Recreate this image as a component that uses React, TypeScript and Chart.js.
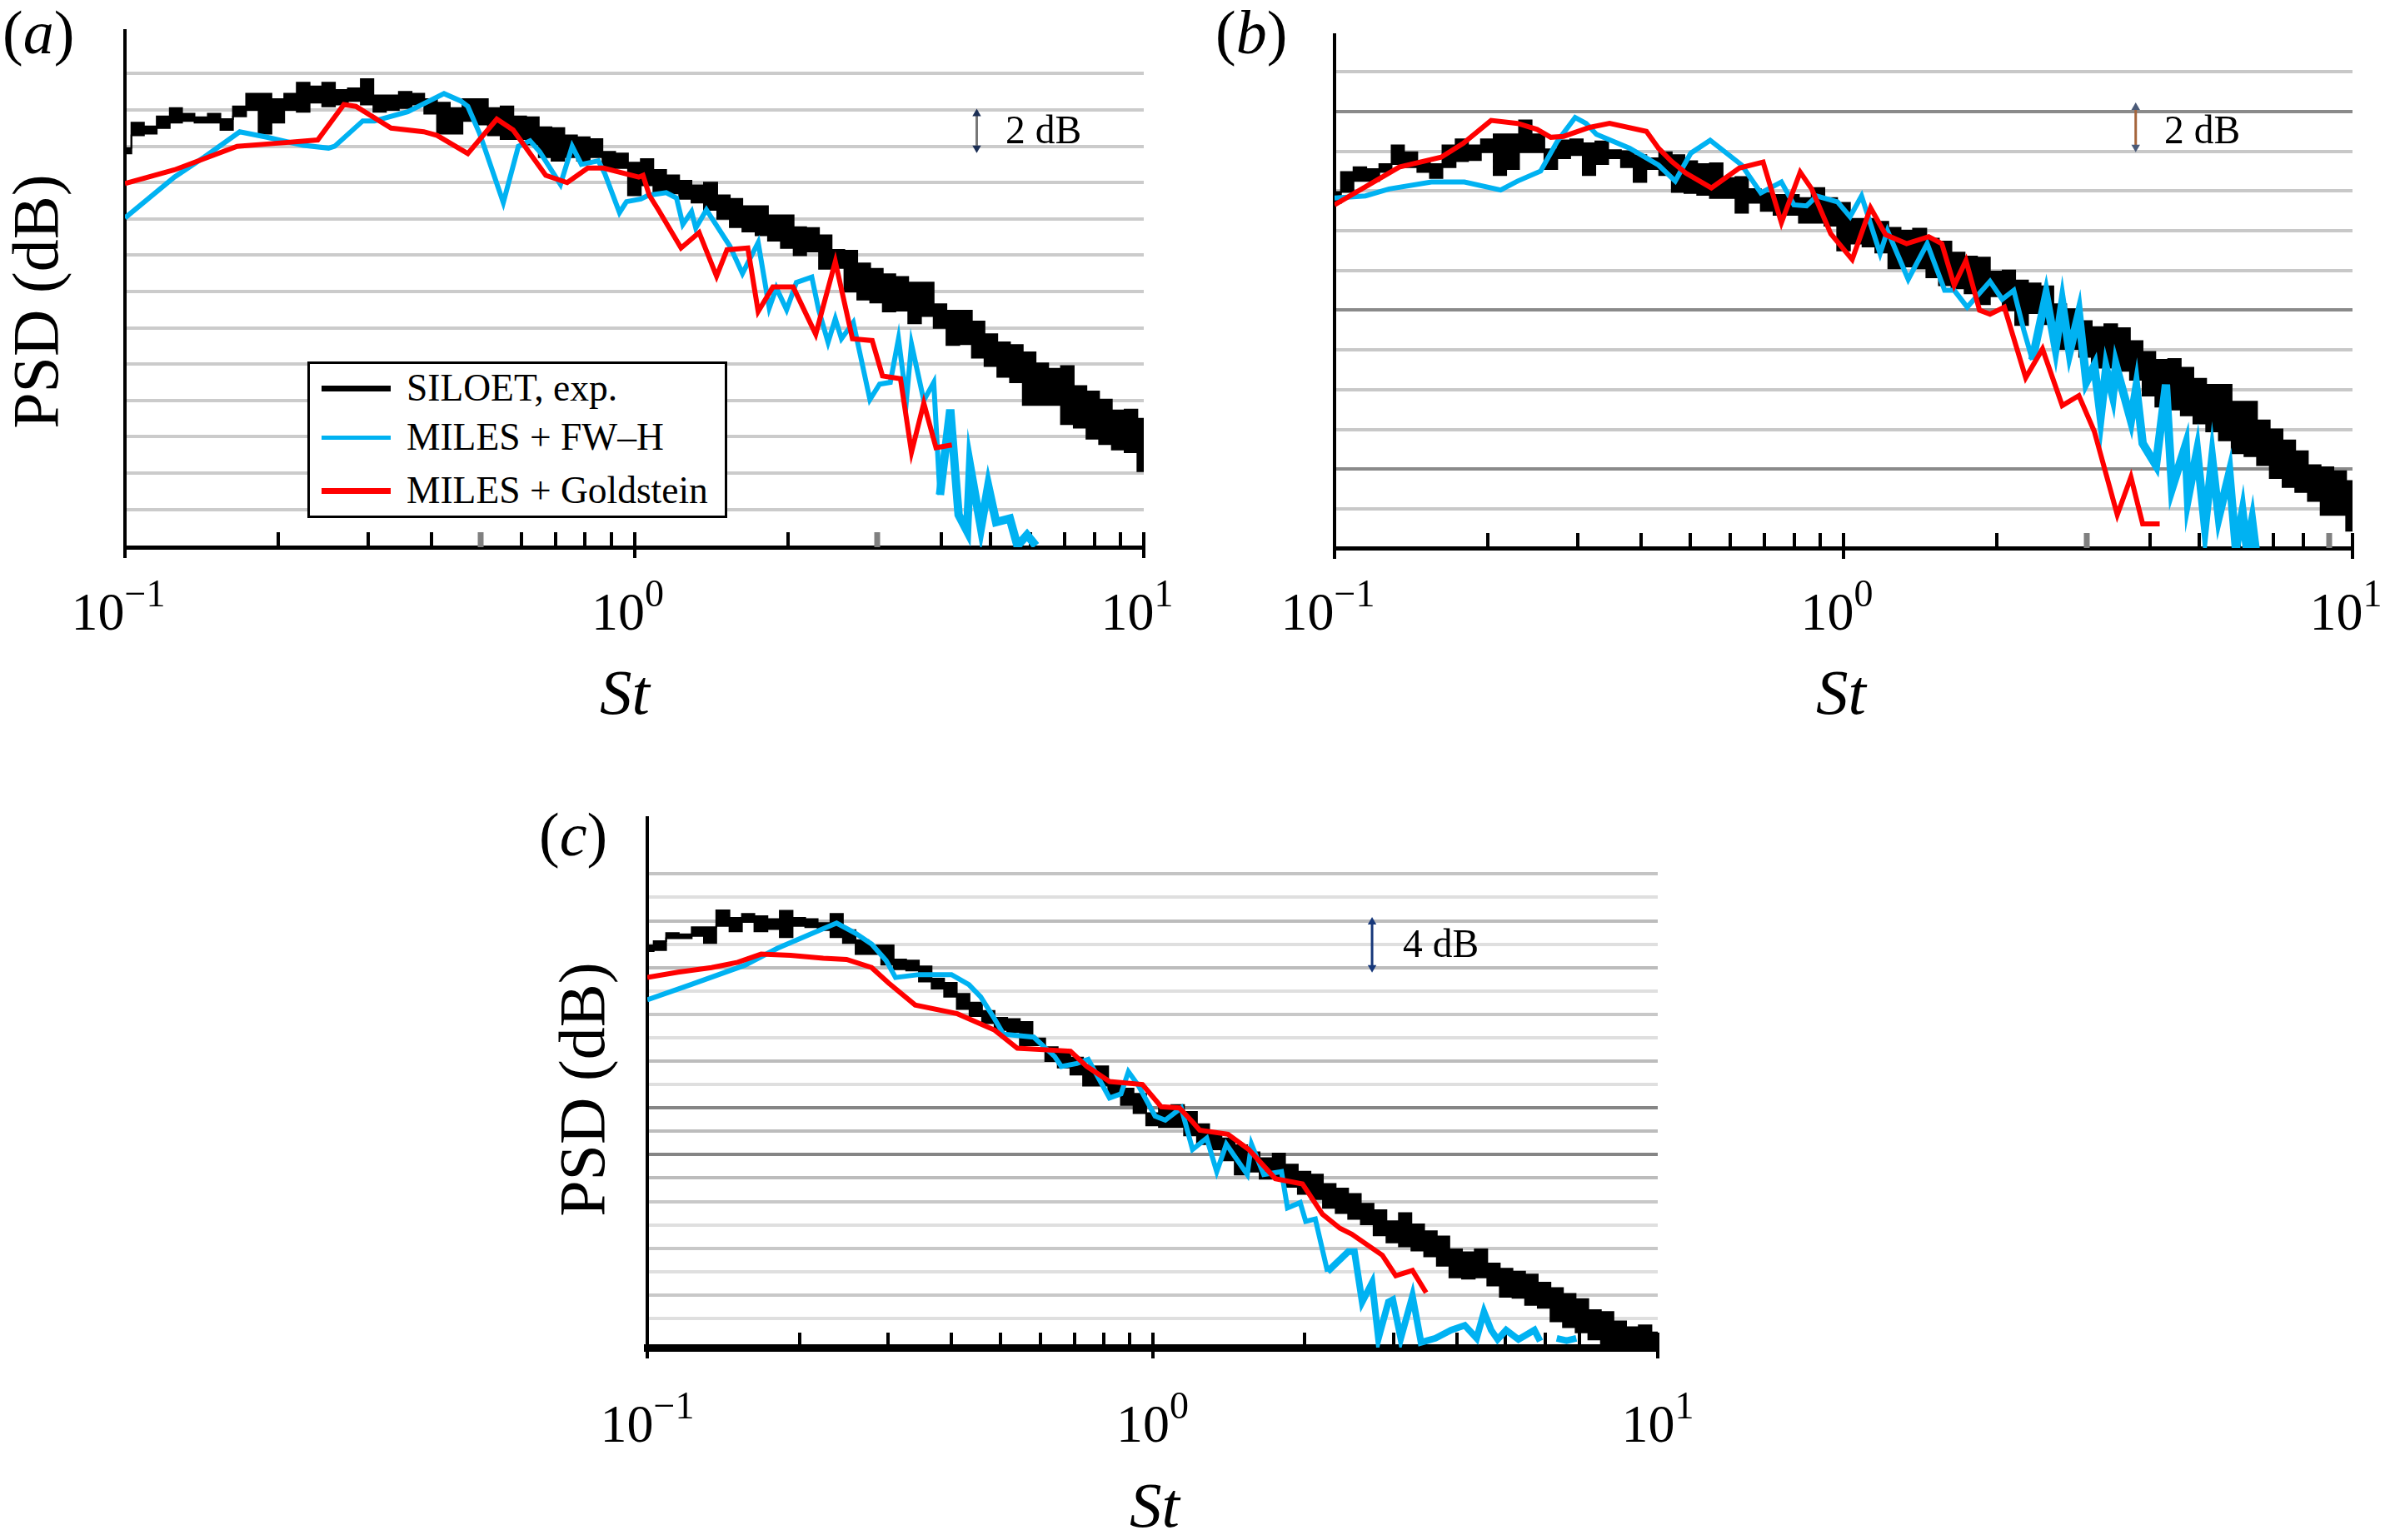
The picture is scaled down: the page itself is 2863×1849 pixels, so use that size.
import React, { useEffect, useRef } from "react";
import Chart from "chart.js/auto";

const SERIF = '"Liberation Serif"';
const BLACK = "#000000";
const BLUE = "#00b2f2";
const RED = "#ff0000";

const legendLabels = ["SILOET, exp.", "MILES + FW\u2013H", "MILES + Goldstein"];

const xTickValues = [
  0.1, 0.2, 0.3, 0.4, 0.5, 0.6, 0.7, 0.8, 0.9, 1, 2, 3, 4, 5, 6, 7, 8, 9, 10,
];
const xDecades = [
  { value: 0.1, exp: "\u22121" },
  { value: 1, exp: "0" },
  { value: 10, exp: "1" },
];

// St samples shared by the experimental band
const blackSt = [
  0.1, 0.106, 0.112, 0.119, 0.126, 0.133, 0.141, 0.15, 0.158, 0.168, 0.178,
  0.188, 0.2, 0.211, 0.224, 0.237, 0.251, 0.266, 0.282, 0.299, 0.316, 0.335,
  0.355, 0.376, 0.398, 0.422, 0.447, 0.473, 0.501, 0.531, 0.562, 0.596, 0.631,
  0.668, 0.708, 0.75, 0.794, 0.841, 0.891, 0.944, 1.0, 1.06, 1.12, 1.19, 1.26,
  1.33, 1.41, 1.5, 1.58, 1.68, 1.78, 1.88, 2.0, 2.11, 2.24, 2.37, 2.51, 2.66,
  2.82, 2.99, 3.16, 3.35, 3.55, 3.76, 3.98, 4.22, 4.47, 4.73, 5.01, 5.31, 5.62,
  5.96, 6.31, 6.68, 7.08, 7.5, 7.94, 8.41, 8.91, 9.44, 10.0,
];

// panel (a)
const aBlackUpper = [
  21.9, 23.3, 23.1, 23.65, 24.1, 23.8, 23.6, 23.8, 23.5, 24.2, 24.9, 24.9, 24.6,
  24.9, 25.5, 25.3, 25.5, 25.1, 25.2, 25.7, 24.8, 24.8, 25.0, 24.9, 24.6, 24.4,
  24.1, 24.6, 24.6, 24.1, 24.2, 23.65, 23.6, 23.05, 23.0, 22.6, 22.5, 22.4,
  21.7, 21.6, 21.1, 21.3, 20.7, 20.4, 20.1, 19.85, 20, 19.3, 19.1, 18.7, 18.7,
  18.2, 18.2, 17.55, 17.5, 17.1, 16.3, 16.25, 15.55, 15.25, 14.95, 14.8, 14.5,
  14.5, 13.3, 12.95, 12.95, 12.35, 11.65, 11.2, 11.05, 10.65, 10.05, 9.75, 9.9,
  8.8, 8.5, 8.05, 7.45, 7.5, 7.0,
];
const aBlackLower = [
  21.6, 22.6, 22.7, 23.0, 23.3, 23.4, 23.3, 23.3, 22.9, 23.65, 24.0, 22.7, 23.3,
  24.0, 23.9, 24.4, 24.2, 24.3, 24.5, 24.3, 23.9, 24.0, 24.1, 24.3, 23.8, 22.7,
  22.7, 23.4, 23.2, 22.6, 22.4, 22.4, 22.1, 21.4, 21.2, 21.4, 21.2, 21.4, 20.7,
  20.8, 19.3, 19.85, 19.5, 19.4, 19.1, 18.9, 18.5, 18.0, 17.55, 17.3, 17.1,
  16.8, 16.4, 16.0, 16.2, 15.25, 15.3, 14.0, 13.55, 13.4, 12.9, 12.95, 12.25,
  12.65, 12.0, 11.05, 11.1, 10.35, 9.9, 9.3, 9.0, 7.75, 7.75, 7.75, 6.7, 6.5,
  5.9, 5.6, 5.3, 5.15, 4.1,
];
const aBlueSt = [
  0.1, 0.125, 0.143, 0.168, 0.19, 0.224, 0.251, 0.258, 0.293, 0.309, 0.359,
  0.423, 0.456, 0.471, 0.496, 0.507, 0.553, 0.592, 0.624, 0.652, 0.716, 0.755,
  0.787, 0.85, 0.875, 0.935, 0.965, 1.03, 1.065, 1.155, 1.21, 1.245, 1.295,
  1.32, 1.385, 1.54, 1.63, 1.75, 1.84, 1.9, 1.99, 2.08, 2.23, 2.3, 2.4, 2.48,
  2.55, 2.69, 2.9, 3.03, 3.18, 3.3, 3.42, 3.5, 3.7, 3.87, 3.98, 4.17, 4.33, 4.5,
  4.56, 4.79, 4.95, 5.13, 5.46, 5.65, 5.9, 6.14,
];
const aBlueDb = [
  18.05, 20.3, 21.4, 22.8, 22.5, 22.05, 21.9, 22, 23.4, 23.4, 23.9, 24.9, 24.5,
  24.2, 22.75, 22, 18.9, 22, 22.3, 21.7, 19.9, 22, 21, 21.2, 20.5, 18.35, 18.95,
  19.1, 19.3, 19.45, 19.15, 17.7, 18.4, 17.5, 18.5, 16.5, 15, 16.7, 13.1, 14.2,
  13, 14.5, 14.8, 13, 11.2, 12.5, 11.4, 12.3, 8.05, 8.9, 9, 11.4, 8, 11.1, 8, 9,
  2.8, 7.5, 1.7, 0.8, 4.4, 1.0, 3.3, 1.3, 1.5, 0, 0.6, 0,
];
const aRedSt = [
  0.1, 0.125, 0.166, 0.195, 0.239, 0.269, 0.284, 0.333, 0.386, 0.41, 0.471,
  0.537, 0.578, 0.67, 0.738, 0.81, 0.87, 1.02, 1.04, 1.07, 1.115, 1.235, 1.34,
  1.45, 1.52, 1.67, 1.75, 1.87, 2.05, 2.27, 2.48, 2.68, 2.93, 3.07, 3.33, 3.5,
  3.7, 3.91, 4.2,
];
const aRedDb = [
  19.95, 20.7, 22, 22.15, 22.35, 24.3, 24.2, 23, 22.8, 22.6, 21.6, 23.5, 22.9,
  20.4, 20, 20.8, 20.8, 20.3, 20.4, 19.3, 18.5, 16.4, 17.25, 14.85, 16.3, 16.4,
  12.9, 14.25, 14.25, 11.65, 15.65, 11.4, 11.3, 9.35, 9.2, 5.15, 7.85, 5.4,
  5.55,
];

// panel (b)
const bBlackUpper = [
  17.95, 18.95, 19.2, 19.1, 19.35, 20.3, 19.95, 19.5, 19.35, 20.3, 20.6, 20.3,
  20.6, 20.85, 20.85, 21.55, 20.85, 20.1, 20.55, 20.6, 20.4, 20.5, 20.05, 20,
  19.8, 19.65, 19.95, 19.8, 19.5, 19.35, 19.4, 18.65, 18.7, 18.1, 17.9, 17.8,
  17.8, 17.65, 18.15, 17.65, 17.4, 16.6, 16.6, 16.45, 16.15, 16, 16.1, 15.6,
  15.45, 14.9, 14.7, 14.65, 13.95, 14, 13.5, 13.35, 13.2, 12.3, 12.05, 11.45,
  11.15, 11.3, 11.1, 10.45, 9.9, 9.5, 9.55, 9.1, 8.55, 8.25, 8.25, 7.4, 7.4,
  6.45, 6, 5.45, 4.9, 4.2, 4.1, 3.9, 3.4,
];
const bBlackLower = [
  17.4, 17.95, 18.5, 18.5, 18.95, 19.35, 19.2, 18.95, 18.65, 19.2, 19.5, 19.55,
  19.95, 18.8, 19.1, 19.95, 19.95, 19.1, 19.65, 19.8, 18.8, 19.35, 19.65, 19.2,
  18.45, 19.1, 18.8, 17.95, 17.9, 17.8, 17.65, 17.65, 16.9, 17.4, 17, 16.8,
  16.8, 16.4, 16.4, 16.25, 15, 15.35, 15.2, 14.9, 14.1, 14.2, 14.1, 13.65,
  13.25, 13.1, 12.85, 12.3, 12.7, 12, 11.25, 11.85, 11.3, 10.05, 10.05, 9.65,
  9.1, 9.1, 8.95, 8.5, 7.7, 7.15, 7, 6.7, 6.3, 5.9, 5.45, 4.8, 4.65, 4.2, 3.55,
  3.1, 2.85, 2.4, 1.7, 1.7, 0.9,
];
const bBlueSt = [
  0.1, 0.115, 0.128, 0.155, 0.18, 0.212, 0.229, 0.254, 0.274, 0.297, 0.312,
  0.327, 0.38, 0.433, 0.467, 0.501, 0.547, 0.631, 0.688, 0.755, 0.799, 0.846,
  0.886, 0.973, 1.03, 1.085, 1.18, 1.22, 1.34, 1.46, 1.58, 1.65, 1.75, 1.94,
  2.05, 2.16, 2.26, 2.35, 2.5, 2.61, 2.69, 2.78, 2.9, 3.0, 3.11, 3.2, 3.28,
  3.38, 3.43, 3.67, 3.76, 3.87, 4.11, 4.3, 4.42, 4.7, 4.75, 4.95, 5.13, 5.3,
  5.46, 5.73, 5.9, 6.08, 6.2, 6.35, 6.45,
];
const bBlueDb = [
  17.65, 17.75, 18.1, 18.45, 18.45, 18.05, 18.5, 19, 20.5, 21.7, 21.4, 20.85,
  20.15, 19.3, 18.5, 19.9, 20.55, 19.3, 17.9, 18.45, 17.3, 17.25, 17.75, 17.45,
  16.7, 17.75, 14.85, 16, 13.55, 15.35, 13, 13, 12.15, 13.45, 12.55, 13, 11,
  9.5, 12.75, 10.1, 12.35, 9.9, 11.85, 8.4, 9.2, 6.65, 9.05, 7.7, 9.2, 6.45,
  8.1, 5.3, 4.2, 8.25, 3.05, 5.2, 2.55, 4.9, 1.1, 4.5, 1.6, 3.8, 0, 1.85, 0,
  1.4, 0,
];
const bRedSt = [
  0.1, 0.134, 0.162, 0.179, 0.203, 0.229, 0.25, 0.266, 0.282, 0.317, 0.347,
  0.41, 0.433, 0.459, 0.49, 0.55, 0.624, 0.695, 0.755, 0.822, 0.866, 0.944,
  1.04, 1.13, 1.21, 1.33, 1.47, 1.56, 1.65, 1.74, 1.85, 1.94, 2.07, 2.28, 2.46,
  2.69, 2.9, 3.11, 3.45, 3.67, 3.87, 4.18,
];
const bRedDb = [
  17.3, 19.2, 19.7, 20.4, 21.55, 21.4, 21.1, 20.7, 20.75, 21.2, 21.4, 21, 20.15,
  19.5, 18.9, 18.15, 19.15, 19.45, 16.4, 18.95, 18.1, 15.85, 14.55, 17.15, 15.8,
  15.35, 15.7, 15.35, 13.25, 14.5, 12, 11.8, 12.15, 8.6, 10.05, 7.2, 7.7, 5.9,
  1.7, 3.6, 1.25, 1.25,
];

// panel (c)
const cBlackUpper = [
  33.9, 34.25, 34.95, 34.85, 35.45, 35.45, 36.9, 36.25, 36.6, 36.4, 36.15,
  36.85, 36.25, 36.15, 35.8, 36.6, 35.2, 34.35, 33.9, 33.9, 32.7, 32.6, 32.1,
  31.05, 30.7, 29.75, 29, 28.3, 27.7, 27.6, 27.35, 25.95, 25.2, 24.65, 24.3,
  23.55, 23.55, 22.15, 21.65, 21.2, 19.55, 20, 20.25, 19.65, 18.6, 17.9, 17.4,
  16.8, 16.2, 15.7, 16.1, 15.15, 14.55, 14.3, 13.5, 13.1, 12.65, 11.8, 11.25,
  10.3, 11, 10.05, 9.45, 9, 7.9, 7.65, 7.9, 6.7, 6.25, 6, 5.75, 5.05, 4.6, 4.1,
  3.65, 2.7, 2.55, 1.75, 1.25, 1.4, 0.8,
];
const cBlackLower = [
  33.4, 33.5, 34.5, 34.5, 34.7, 34.1, 35.55, 35.1, 35.9, 35.1, 35.3, 34.6,
  35.55, 35.45, 35.2, 34.6, 34.1, 33.15, 33.15, 32.25, 31.85, 31.75, 30.8, 30.2,
  29.5, 28.45, 27.85, 27.25, 26.65, 26.5, 25.35, 25.35, 24, 23.45, 22.85, 21.9,
  21.9, 21.05, 20.25, 19.55, 18.5, 18.35, 18.35, 17.65, 16.9, 16.45, 15.5, 14.3,
  14.55, 13.95, 14.1, 13.25, 12.65, 12.2, 11.45, 11, 10.5, 10.05, 9.1, 8.5,
  8.15, 7.8, 7.3, 6.5, 5.5, 5.4, 5.5, 4.8, 3.85, 3.75, 3.15, 2.9, 1.75, 1.25,
  0.8, 0.2, -0.5, -0.5, -0.5, -0.5, -0.5,
];
const cBlueSt = [
  0.1, 0.122, 0.156, 0.181, 0.21, 0.237, 0.258, 0.278, 0.297, 0.31, 0.345, 0.4,
  0.433, 0.457, 0.487, 0.507, 0.582, 0.64, 0.66, 0.708, 0.746, 0.822, 0.866,
  0.896, 0.938, 1.012, 1.06, 1.14, 1.2, 1.28, 1.34, 1.4, 1.54, 1.57, 1.66, 1.8,
  1.85, 1.96, 2.01, 2.1, 2.22, 2.44, 2.51, 2.6, 2.72, 2.8, 2.93, 2.99, 3.1,
  3.27, 3.4, 3.63, 3.9, 4.15, 4.38, 4.53, 4.68, 4.82, 5.01, 5.3, 5.7, 5.85, 6.1,
  6.31, 6.6, 6.9,
];
const cBlueDb = [
  29.25, 30.55, 32.2, 33.65, 34.85, 35.8, 34.95, 34, 32.6, 31.15, 31.4, 31.4,
  30.55, 29.5, 27.6, 26.3, 26.05, 24.4, 23.55, 23.8, 24.15, 20.85, 21.2, 23.1,
  21.9, 19.3, 18.95, 20, 16.45, 17.4, 14.55, 16.9, 14.3, 16.9, 14.3, 14.55,
  11.45, 11.9, 10.3, 10.5, 6, 7.7, 7.7, 3.4, 5.05, 0.3, 3.4, 3.6, 0.3, 3.9,
  -0.05, 0.3, 1, 1.4, 0.3, 2.55, 1, 0.2, 1, 0.2, 1, 0.05, null, 0.3, 0.1, 0.3,
];
const cRedSt = [
  0.1, 0.115, 0.134, 0.151, 0.168, 0.192, 0.223, 0.248, 0.278, 0.3, 0.339,
  0.411, 0.487, 0.54, 0.688, 0.741, 0.822, 0.955, 1.04, 1.13, 1.2, 1.24, 1.41,
  1.55, 1.75, 1.98, 2.17, 2.35, 2.48, 2.85, 3.03, 3.27, 3.48,
];
const cRedDb = [
  31.15, 31.6, 32, 32.45, 33.15, 33.05, 32.8, 32.7, 32, 30.7, 28.8, 28.05,
  26.65, 25.1, 24.85, 23.55, 22.25, 22, 20.1, 20, 18.8, 18.1, 17.75, 16.45,
  13.95, 13.5, 10.9, 9.7, 9.2, 7.4, 5.65, 6.1, 4.2,
];

// y grid levels in dB, with the shade each one has in the picture
const aGrid = [2, 4, 6, 8, 10, 12, 14, 16, 18, 20, 22, 24, 26];
const bGrid = [2, 4, 6, 8, 10, 12, 14, 16, 18, 20, 22, 24];
const cGrid = [
  2, 4, 6, 8, 10, 12, 14, 16, 18, 20, 22, 24, 26, 28, 30, 32, 34, 36, 38, 40,
];
const aGridColors = aGrid.map(() => "#cbcbcb");
const bGridColors = [
  "#c8c8c8", "#8a8a8a", "#c8c8c8", "#c8c8c8", "#c8c8c8", "#8a8a8a", "#c8c8c8",
  "#c8c8c8", "#c8c8c8", "#c8c8c8", "#8a8a8a", "#c8c8c8",
];
const cGridColors = [
  "#dfdfdf", "#c8c8c8", "#dfdfdf", "#c8c8c8", "#dfdfdf", "#c8c8c8", "#bcbcbc",
  "#858585", "#bcbcbc", "#858585", "#dfdfdf", "#bcbcbc", "#dfdfdf", "#c8c8c8",
  "#dfdfdf", "#bcbcbc", "#dfdfdf", "#bcbcbc", "#dfdfdf", "#c4c4c4",
];

const points = (xs: number[], ys: (number | null)[]) =>
  xs.map((x, i) => ({ x, y: ys[i] }));

type TPanel = {
  letter: string;
  box: { left: number; top: number; width: number; height: number };
  area: { left: number; right: number; top: number; bottom: number };
  yMin: number;
  yMax: number;
  grid: number[];
  gridColors: string[];
  upper: number[];
  lower: number[];
  blueSt: number[];
  blueDb: (number | null)[];
  blueDenseFrom: number;
  blueDenseWidth: number;
  redSt: number[];
  redDb: number[];
  axisWidth: number;
  grayTicks: number[];
  arrowSt: number;
  arrowDb: [number, number];
  arrowLine: string;
  arrowHead: string;
  arrowText: string;
  arrowTextPos: [number, number];
  letterPos: [number, number];
  stPos: [number, number];
  psdPos?: [number, number];
  tickBaseline: number;
  tickShift: number;
};

const panels: TPanel[] = [
  {
    letter: "a",
    box: { left: 0, top: 0, width: 1430, height: 880 },
    area: { left: 150, right: 1373, top: 37, bottom: 657 },
    yMin: -0.08,
    yMax: 28.36,
    grid: aGrid,
    gridColors: aGridColors,
    upper: aBlackUpper,
    lower: aBlackLower,
    blueSt: aBlueSt,
    blueDb: aBlueDb,
    blueDenseFrom: 3.9,
    blueDenseWidth: 10,
    redSt: aRedSt,
    redDb: aRedDb,
    axisWidth: 5,
    grayTicks: [0.5, 3],
    arrowSt: 4.7,
    arrowDb: [21.9, 23.8],
    arrowLine: "#777777",
    arrowHead: "#1c2f55",
    arrowText: "2 dB",
    arrowTextPos: [1207, 172],
    letterPos: [3, 64],
    stPos: [750, 857],
    psdPos: [49, 362],
    tickBaseline: 756,
    tickShift: -8,
  },
  {
    letter: "b",
    box: { left: 1430, top: 0, width: 1433, height: 880 },
    area: { left: 172, right: 1394, top: 42, bottom: 658 },
    yMin: 0.03,
    yMax: 25.85,
    grid: bGrid,
    gridColors: bGridColors,
    upper: bBlackUpper,
    lower: bBlackLower,
    blueSt: bBlueSt,
    blueDb: bBlueDb,
    blueDenseFrom: 2.3,
    blueDenseWidth: 10,
    redSt: bRedSt,
    redDb: bRedDb,
    axisWidth: 5,
    grayTicks: [3, 9],
    arrowSt: 3.75,
    arrowDb: [20.2, 22.2],
    arrowLine: "#a5653c",
    arrowHead: "#4a5a78",
    arrowText: "2 dB",
    arrowTextPos: [1168, 172],
    letterPos: [29, 64],
    stPos: [780, 857],
    tickBaseline: 756,
    tickShift: -8,
  },
  {
    letter: "c",
    box: { left: 620, top: 960, width: 1430, height: 889 },
    area: { left: 157, right: 1370, top: 22, bottom: 658 },
    yMin: -0.5,
    yMax: 44.8,
    grid: cGrid,
    gridColors: cGridColors,
    upper: cBlackUpper,
    lower: cBlackLower,
    blueSt: cBlueSt,
    blueDb: cBlueDb,
    blueDenseFrom: 2.2,
    blueDenseWidth: 8,
    redSt: cRedSt,
    redDb: cRedDb,
    axisWidth: 9,
    grayTicks: [],
    arrowSt: 2.72,
    arrowDb: [32, 35.9],
    arrowLine: "#17387a",
    arrowHead: "#17387a",
    arrowText: "4 dB",
    arrowTextPos: [1064, 189],
    letterPos: [27, 67],
    stPos: [766, 873],
    psdPos: [85, 348],
    tickBaseline: 771,
    tickShift: 0,
  },
];

// ticks point into the plot; decades also stick out below the axis
const xTickMarks = {
  id: "xTickMarks",
  beforeDatasetsDraw(chart: any, _args: any, opts: any) {
    const { ctx, scales } = chart;
    const bottom = chart.chartArea.bottom;
    ctx.save();
    scales.x.ticks.forEach((tick: any) => {
      const px = Math.round(scales.x.getPixelForValue(tick.value));
      const decade = xDecades.some((d) => d.value === tick.value);
      const gray = opts.grayTicks.includes(tick.value);
      ctx.strokeStyle = gray ? "#808080" : BLACK;
      ctx.lineWidth = gray ? 7 : 4;
      ctx.beginPath();
      ctx.moveTo(px, bottom - 18);
      ctx.lineTo(px, decade ? bottom + 13 : bottom);
      ctx.stroke();
    });
    ctx.restore();
  },
};

const panelText = {
  id: "panelText",
  afterDraw(chart: any, _args: any, opts: any) {
    const { ctx, scales } = chart;
    const panel: TPanel = opts.panel;
    ctx.save();
    ctx.fillStyle = BLACK;
    ctx.textBaseline = "alphabetic";

    // 10^n tick labels, centred on their decade
    xDecades.forEach((d) => {
      const px = scales.x.getPixelForValue(d.value) + panel.tickShift;
      ctx.font = `64px ${SERIF}`;
      const baseWidth = ctx.measureText("10").width;
      ctx.font = `46px ${SERIF}`;
      const expWidth = ctx.measureText(d.exp).width;
      const left = px - (baseWidth + expWidth) / 2;
      ctx.font = `64px ${SERIF}`;
      ctx.fillText("10", left, panel.tickBaseline);
      ctx.font = `46px ${SERIF}`;
      ctx.fillText(d.exp, left + baseWidth, panel.tickBaseline - 28);
    });

    // St
    ctx.font = `italic 77px ${SERIF}`;
    ctx.textAlign = "center";
    ctx.fillText("St", panel.stPos[0], panel.stPos[1]);

    // PSD (dB)
    if (panel.psdPos) {
      ctx.save();
      ctx.translate(panel.psdPos[0], panel.psdPos[1]);
      ctx.rotate(-Math.PI / 2);
      ctx.font = `78px ${SERIF}`;
      ctx.textBaseline = "middle";
      ctx.fillText("PSD (dB)", 0, 0);
      ctx.restore();
    }
    ctx.textAlign = "left";

    // scale bar text
    ctx.font = `47.5px ${SERIF}`;
    ctx.fillText(panel.arrowText, panel.arrowTextPos[0], panel.arrowTextPos[1]);

    // (a), (b), (c)
    let x = panel.letterPos[0];
    const y = panel.letterPos[1];
    ctx.font = `74px ${SERIF}`;
    ctx.fillText("(", x, y);
    x += ctx.measureText("(").width;
    ctx.font = `italic 74px ${SERIF}`;
    ctx.fillText(panel.letter, x, y);
    x += ctx.measureText(panel.letter).width;
    ctx.font = `74px ${SERIF}`;
    ctx.fillText(")", x, y);
    ctx.restore();
  },
};

const PsdPanel: React.FC<{ panel: TPanel }> = ({ panel }) => {
  const canvasRef = useRef<HTMLCanvasElement | null>(null);

  useEffect(() => {
    const canvas = canvasRef.current;
    if (!canvas) return;
    const { box, area } = panel;
    const chart = new Chart(canvas, {
      type: "line",
      data: {
        datasets: [
          {
            label: "scale bar",
            data: [
              { x: panel.arrowSt, y: panel.arrowDb[0] },
              { x: panel.arrowSt, y: panel.arrowDb[1] },
            ],
            borderColor: panel.arrowLine,
            backgroundColor: panel.arrowHead,
            borderWidth: 3,
            pointStyle: "triangle",
            pointRadius: 6,
            pointBorderWidth: 0,
            pointRotation: [180, 0],
          },
          {
            label: legendLabels[2],
            data: points(panel.redSt, panel.redDb),
            borderColor: RED,
            borderWidth: 6,
            pointRadius: 0,
          },
          {
            label: legendLabels[1],
            data: points(panel.blueSt, panel.blueDb),
            borderColor: BLUE,
            borderWidth: 6,
            pointRadius: 0,
            segment: {
              borderWidth: (ctx: any) =>
                ctx.p0.parsed.x >= panel.blueDenseFrom
                  ? panel.blueDenseWidth
                  : 6,
            },
          },
          {
            label: legendLabels[0],
            data: points(blackSt, panel.upper),
            borderColor: BLACK,
            backgroundColor: BLACK,
            borderWidth: 2,
            pointRadius: 0,
            stepped: "middle",
            fill: "+1",
          },
          {
            label: legendLabels[0] + " lower",
            data: points(blackSt, panel.lower),
            borderColor: BLACK,
            borderWidth: 2,
            pointRadius: 0,
            stepped: "middle",
          },
        ],
      },
      options: {
        animation: false,
        responsive: false,
        devicePixelRatio: 1,
        layout: {
          autoPadding: false,
          padding: {
            left: 0,
            bottom: 0,
            top: area.top,
            right: box.width - area.right,
          },
        },
        scales: {
          x: {
            type: "logarithmic",
            min: 0.1,
            max: 10,
            afterBuildTicks: (axis: any) => {
              axis.ticks = xTickValues.map((value) => ({ value }));
            },
            afterFit: (axis: any) => {
              axis.height = box.height - area.bottom;
            },
            ticks: { display: false },
            grid: { display: false, drawTicks: false },
            border: { color: BLACK, width: panel.axisWidth },
          },
          y: {
            type: "linear",
            min: panel.yMin,
            max: panel.yMax,
            afterBuildTicks: (axis: any) => {
              axis.ticks = panel.grid.map((value) => ({ value }));
            },
            afterFit: (axis: any) => {
              axis.width = area.left;
            },
            ticks: { display: false },
            grid: {
              drawTicks: false,
              lineWidth: 4,
              color: (ctx: any) =>
                panel.gridColors[panel.grid.indexOf(ctx.tick?.value)] ||
                "#cbcbcb",
            },
            border: { color: BLACK, width: 4 },
          },
        },
        plugins: {
          legend: { display: false },
          tooltip: { enabled: false },
          xTickMarks: { grayTicks: panel.grayTicks },
          panelText: { panel },
        },
      } as any,
      plugins: [xTickMarks, panelText],
    });
    return () => chart.destroy();
  }, [panel]);

  return (
    <canvas
      ref={canvasRef}
      width={panel.box.width}
      height={panel.box.height}
      style={{
        position: "absolute",
        left: panel.box.left,
        top: panel.box.top,
        width: panel.box.width,
        height: panel.box.height,
      }}
    />
  );
};

const legendRows = [
  { label: legendLabels[0], color: BLACK, thick: 7, top: 29 },
  { label: legendLabels[1], color: BLUE, thick: 5, top: 88 },
  { label: legendLabels[2], color: RED, thick: 7, top: 152 },
];

const Legend: React.FC = () => (
  <div
    style={{
      position: "absolute",
      left: 369,
      top: 434,
      width: 498,
      height: 182,
      border: "3px solid #000",
      background: "#fff",
      fontFamily: SERIF,
      fontSize: 45.5,
      color: "#000",
    }}
  >
    {legendRows.map((row) => (
      <div key={row.label}>
        <div
          style={{
            position: "absolute",
            left: 14,
            top: row.top - row.thick / 2,
            width: 83,
            height: row.thick,
            background: row.color,
          }}
        />
        <div
          style={{
            position: "absolute",
            left: 116,
            top: row.top - 28,
            lineHeight: "56px",
            whiteSpace: "nowrap",
          }}
        >
          {row.label}
        </div>
      </div>
    ))}
  </div>
);

export default function App() {
  return (
    <div
      style={{
        position: "absolute",
        left: 0,
        top: 0,
        width: 2863,
        height: 1849,
        background: "#fff",
      }}
    >
      {panels.map((panel) => (
        <PsdPanel key={panel.letter} panel={panel} />
      ))}
      <Legend />
    </div>
  );
}
